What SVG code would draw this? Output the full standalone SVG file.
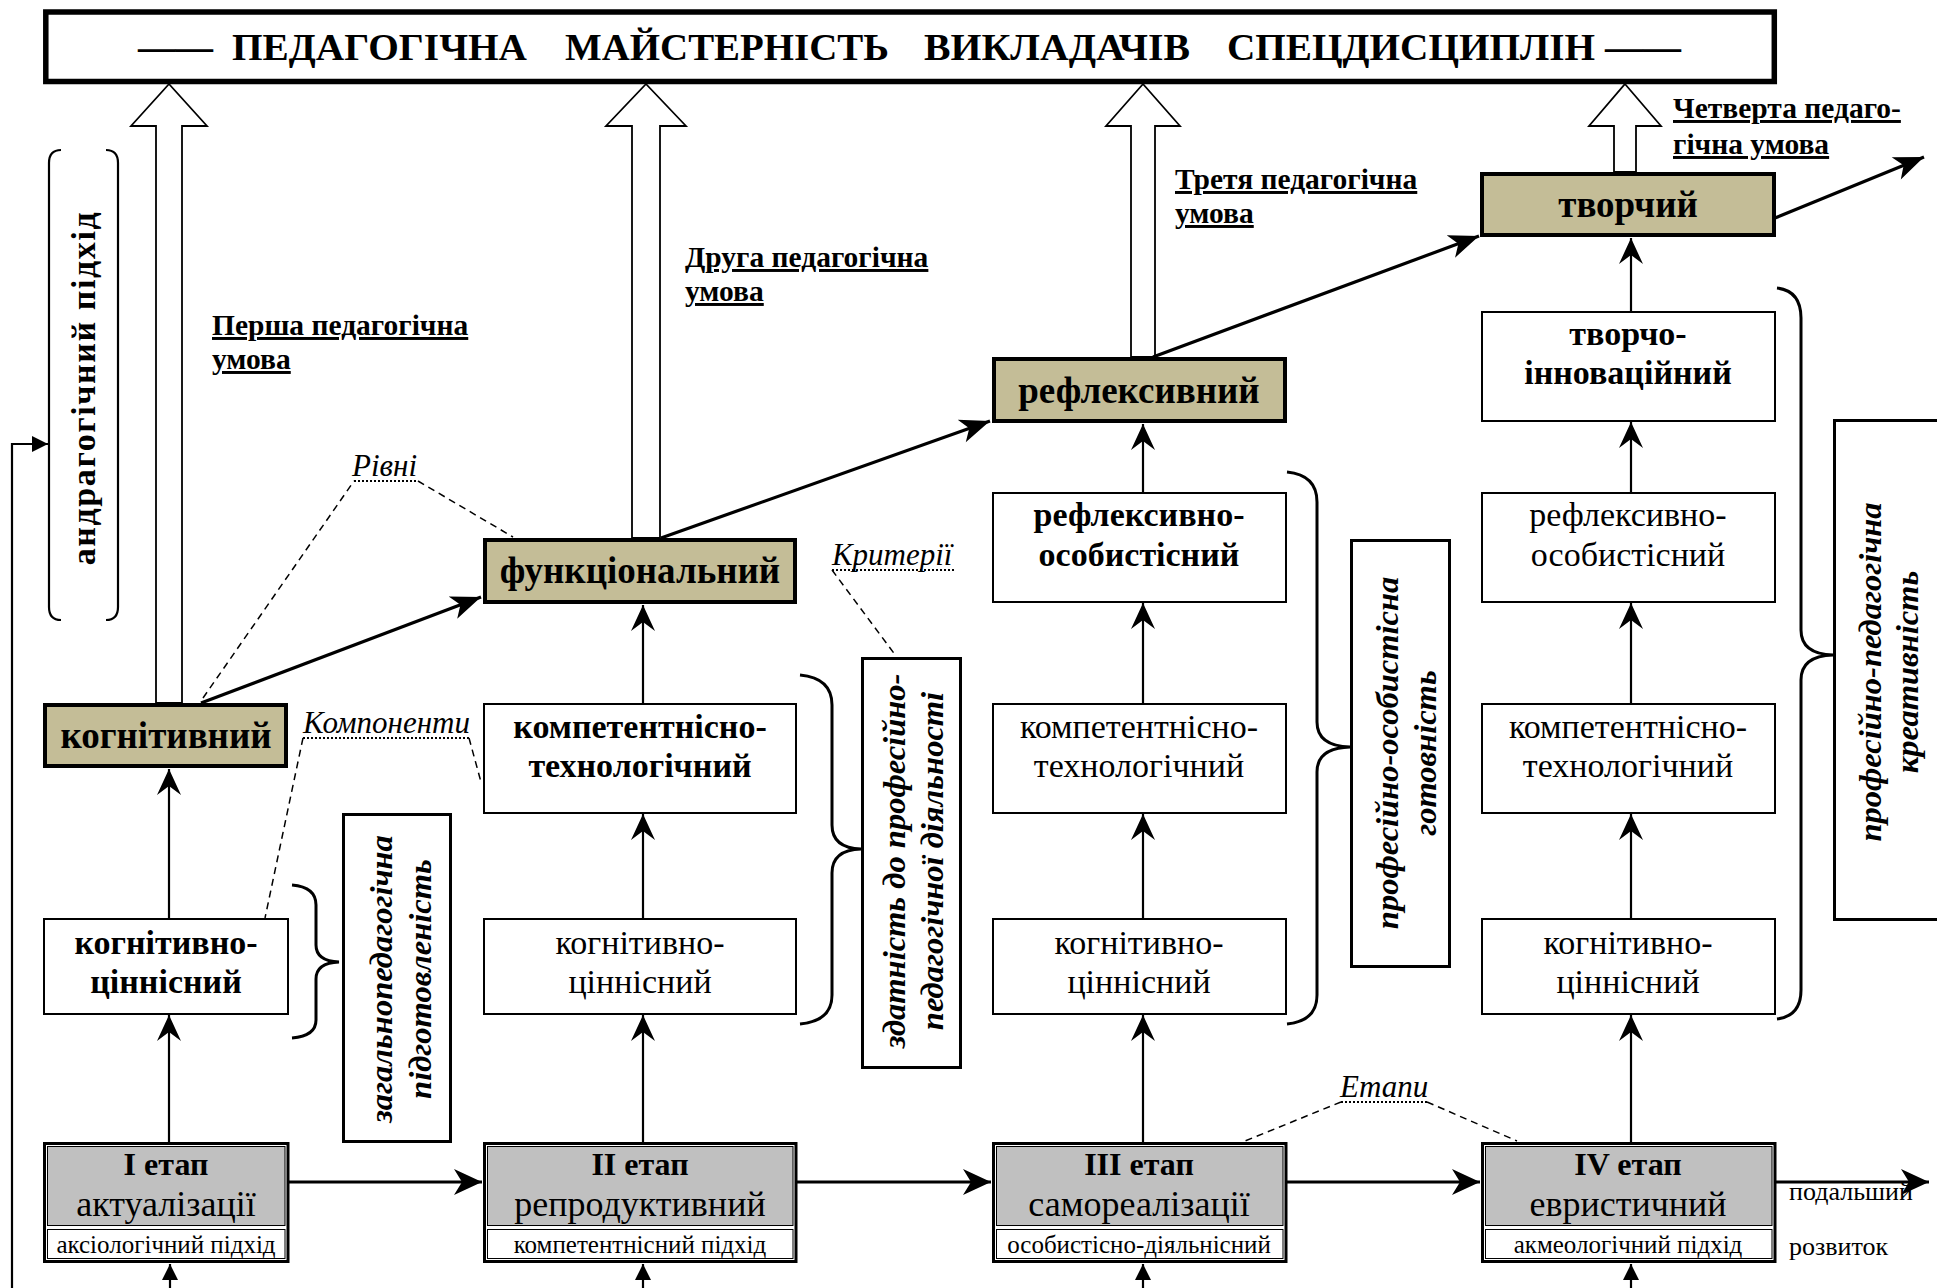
<svg xmlns="http://www.w3.org/2000/svg" width="1937" height="1288" viewBox="0 0 1937 1288">
<style>
text{font-family:"Liberation Serif","Times New Roman",serif;fill:#000}
.b{font-weight:bold}
.lvl{font-size:37px;font-weight:bold;text-anchor:middle}
.cb{font-size:34px;font-weight:bold;text-anchor:middle}
.cn{font-size:34px;text-anchor:middle}
.st1{font-size:32px;font-weight:bold;text-anchor:middle}
.st2{font-size:36px;text-anchor:middle}
.st3{font-size:25px;text-anchor:middle}
.cond{font-size:29.5px;font-weight:bold;text-decoration:underline}
.it{font-size:31px;font-style:italic}
.vt{font-size:32.5px;font-weight:bold;font-style:italic;text-anchor:middle}
.ttl{font-size:38px;font-weight:bold}
.lvlbox{fill:#c4bd97;stroke:#000;stroke-width:4}
.comp{fill:#fff;stroke:#000;stroke-width:2}
.vbox{fill:#fff;stroke:#000;stroke-width:3}
.hollow{fill:#fff;stroke:#000;stroke-width:1.8}
.ln{fill:none;stroke:#000;stroke-width:2.2}
.thick{fill:none;stroke:#000;stroke-width:3.2}
.dash{fill:none;stroke:#000;stroke-width:1.5;stroke-dasharray:7 5}
.dot{fill:none;stroke:#000;stroke-width:1.8;stroke-dasharray:2 2}
.brace{fill:none;stroke:#000;stroke-width:3}
</style>
<defs>
<marker id="ah" markerUnits="userSpaceOnUse" markerWidth="30" markerHeight="30" viewBox="-30 -15 30 30" refX="0" refY="0" orient="auto"><path d="M0,0 L-26,-12 L-17,0 L-26,12 Z" fill="#000"/></marker>
<marker id="ahS" markerUnits="userSpaceOnUse" markerWidth="32" markerHeight="32" viewBox="-32 -16 32 32" refX="0" refY="0" orient="auto"><path d="M0,0 L-28,-13 L-20,0 L-28,13 Z" fill="#000"/></marker>
<marker id="ahD" markerUnits="userSpaceOnUse" markerWidth="34" markerHeight="34" viewBox="-34 -17 34 34" refX="0" refY="0" orient="auto"><path d="M0,0 L-30,-12 L-22,0 L-30,12 Z" fill="#000"/></marker>
<marker id="ahT" markerUnits="userSpaceOnUse" markerWidth="20" markerHeight="20" viewBox="-20 -10 20 20" refX="0" refY="0" orient="auto"><path d="M0,0 L-16,-8 L-16,8 Z" fill="#000"/></marker>
</defs>

<!-- title -->
<g id="title">
<rect x="45.8" y="12" width="1728.5" height="69.5" fill="#fff" stroke="#000" stroke-width="5.5"/>
<text class="ttl" x="138" y="60" textLength="75" lengthAdjust="spacingAndGlyphs">——</text>
<text class="ttl" x="232" y="60" textLength="295" lengthAdjust="spacingAndGlyphs">ПЕДАГОГІЧНА</text>
<text class="ttl" x="565" y="60" textLength="324" lengthAdjust="spacingAndGlyphs">МАЙСТЕРНІСТЬ</text>
<text class="ttl" x="924" y="60" textLength="266" lengthAdjust="spacingAndGlyphs">ВИКЛАДАЧІВ</text>
<text class="ttl" x="1227" y="60" textLength="368" lengthAdjust="spacingAndGlyphs">СПЕЦДИСЦИПЛІН</text>
<text class="ttl" x="1605" y="60" textLength="76" lengthAdjust="spacingAndGlyphs">——</text>
</g>

<!-- hollow arrows to title -->
<g id="hollow-arrows">
<path class="hollow" d="M169,84 L207,126 L182,126 L182,703 L156,703 L156,126 L131,126 Z"/>
<path class="hollow" d="M646,84 L686,126 L660,126 L660,538 L632,538 L632,126 L606,126 Z"/>
<path class="hollow" d="M1143,84 L1180,126 L1155,126 L1155,357 L1131,357 L1131,126 L1106,126 Z"/>
<path class="hollow" d="M1625,84 L1661,126 L1636,126 L1636,172 L1614,172 L1614,126 L1589,126 Z"/>
</g>

<!-- connectors -->
<g id="connectors">
<line class="thick" x1="201" y1="703" x2="481" y2="597" marker-end="url(#ahD)"/>
<line class="thick" x1="661" y1="538" x2="990" y2="421" marker-end="url(#ahD)"/>
<line class="thick" x1="1153" y1="357" x2="1479" y2="236" marker-end="url(#ahD)"/>
<line class="thick" x1="1775" y1="218" x2="1924" y2="157" marker-end="url(#ahD)"/>
<line class="thick" x1="289" y1="1182" x2="482" y2="1182" marker-end="url(#ahS)"/>
<line class="thick" x1="797" y1="1182" x2="991" y2="1182" marker-end="url(#ahS)"/>
<line class="thick" x1="1287" y1="1182" x2="1480" y2="1182" marker-end="url(#ahS)"/>
<line class="thick" x1="1776" y1="1182" x2="1929" y2="1182" marker-end="url(#ahS)"/>
<line class="ln" x1="169" y1="1142" x2="169" y2="1015" marker-end="url(#ah)"/>
<line class="ln" x1="169" y1="918" x2="169" y2="769" marker-end="url(#ah)"/>
<line class="ln" x1="643" y1="1142" x2="643" y2="1015" marker-end="url(#ah)"/>
<line class="ln" x1="643" y1="918" x2="643" y2="814" marker-end="url(#ah)"/>
<line class="ln" x1="643" y1="703" x2="643" y2="605" marker-end="url(#ah)"/>
<line class="ln" x1="1143" y1="1142" x2="1143" y2="1015" marker-end="url(#ah)"/>
<line class="ln" x1="1143" y1="918" x2="1143" y2="814" marker-end="url(#ah)"/>
<line class="ln" x1="1143" y1="703" x2="1143" y2="603" marker-end="url(#ah)"/>
<line class="ln" x1="1143" y1="492" x2="1143" y2="424" marker-end="url(#ah)"/>
<line class="ln" x1="1631" y1="1142" x2="1631" y2="1015" marker-end="url(#ah)"/>
<line class="ln" x1="1631" y1="918" x2="1631" y2="814" marker-end="url(#ah)"/>
<line class="ln" x1="1631" y1="703" x2="1631" y2="603" marker-end="url(#ah)"/>
<line class="ln" x1="1631" y1="492" x2="1631" y2="422" marker-end="url(#ah)"/>
<line class="ln" x1="1631" y1="311" x2="1631" y2="238" marker-end="url(#ah)"/>
<line class="ln" x1="170" y1="1290" x2="170" y2="1264" marker-end="url(#ahT)"/>
<line class="ln" x1="643" y1="1290" x2="643" y2="1264" marker-end="url(#ahT)"/>
<line class="ln" x1="1143" y1="1290" x2="1143" y2="1264" marker-end="url(#ahT)"/>
<line class="ln" x1="1631" y1="1290" x2="1631" y2="1264" marker-end="url(#ahT)"/>
<path class="ln" d="M12,1290 L12,444 L48,444" marker-end="url(#ahT)"/>
<path class="dash" d="M203,698 L354,481"/>
<path class="dash" d="M418,481 L513,537"/>
<path class="dot" d="M354,481 L418,481"/>
<path class="dash" d="M832,570 L896,656"/>
<path class="dot" d="M832,570 L955,570"/>
<path class="dash" d="M469,738 L481,782"/>
<path class="dash" d="M303,738 L265,918"/>
<path class="dot" d="M303,738 L469,738"/>
<path class="dash" d="M1341,1102 L1245,1141"/>
<path class="dash" d="M1427,1102 L1517,1141"/>
<path class="dot" d="M1341,1102 L1427,1102"/>
<path class="brace" d="M292,885 Q316,887 316,905 L316,945 Q316,961 339,962 Q316,963 316,979 L316,1020 Q316,1036 292,1038"/>
<path class="brace" d="M800,675 Q832,678 832,705 L832,825 Q832,848 861,849 Q832,850 832,873 L832,995 Q832,1021 800,1024"/>
<path class="brace" d="M1287,472 Q1317,475 1317,502 L1317,722 Q1317,746 1350,747 Q1317,748 1317,772 L1317,995 Q1317,1021 1287,1024"/>
<path class="brace" d="M1777,288 Q1801,291 1801,318 L1801,630 Q1801,654 1833,655 Q1801,656 1801,680 L1801,990 Q1801,1016 1777,1019"/>
<path class="ln" d="M61,150 Q49,150 49,163 L49,607 Q49,620 61,620"/>
<path class="ln" d="M106,150 Q118,150 118,163 L118,607 Q118,620 106,620"/>
</g>

<!-- level nodes -->
<g id="lvl-kognityvnyi"><rect class="lvlbox" x="45" y="705" width="241" height="61"/><text class="lvl" x="166" y="748">когнітивний</text></g>
<g id="lvl-funktsionalnyi"><rect class="lvlbox" x="485" y="540" width="310" height="62"/><text class="lvl" x="640" y="583">функціональний</text></g>
<g id="lvl-refleksyvnyi"><rect class="lvlbox" x="994" y="359" width="291" height="62"/><text class="lvl" x="1139" y="403">рефлексивний</text></g>
<g id="lvl-tvorchyi"><rect class="lvlbox" x="1482" y="174" width="292" height="61"/><text class="lvl" x="1628" y="217">творчий</text></g>

<!-- component nodes -->
<g id="c1-kc"><rect class="comp" x="44" y="919" width="244" height="95"/><text class="cb" x="166" y="954">когнітивно-</text><text class="cb" x="166" y="993">ціннісний</text></g>
<g id="c2-kt"><rect class="comp" x="484" y="704" width="312" height="109"/><text class="cb" x="640" y="738">компетентнісно-</text><text class="cb" x="640" y="777">технологічний</text></g>
<g id="c2-kc"><rect class="comp" x="484" y="919" width="312" height="95"/><text class="cn" x="640" y="954">когнітивно-</text><text class="cn" x="640" y="993">ціннісний</text></g>
<g id="c3-ro"><rect class="comp" x="993" y="493" width="293" height="109"/><text class="cb" x="1139" y="526">рефлексивно-</text><text class="cb" x="1139" y="566">особистісний</text></g>
<g id="c3-kt"><rect class="comp" x="993" y="704" width="293" height="109"/><text class="cn" x="1139" y="738">компетентнісно-</text><text class="cn" x="1139" y="777">технологічний</text></g>
<g id="c3-kc"><rect class="comp" x="993" y="919" width="293" height="95"/><text class="cn" x="1139" y="954">когнітивно-</text><text class="cn" x="1139" y="993">ціннісний</text></g>
<g id="c4-ti"><rect class="comp" x="1482" y="312" width="293" height="109"/><text class="cb" x="1628" y="345">творчо-</text><text class="cb" x="1628" y="384">інноваційний</text></g>
<g id="c4-ro"><rect class="comp" x="1482" y="493" width="293" height="109"/><text class="cn" x="1628" y="526">рефлексивно-</text><text class="cn" x="1628" y="566">особистісний</text></g>
<g id="c4-kt"><rect class="comp" x="1482" y="704" width="293" height="109"/><text class="cn" x="1628" y="738">компетентнісно-</text><text class="cn" x="1628" y="777">технологічний</text></g>
<g id="c4-kc"><rect class="comp" x="1482" y="919" width="293" height="95"/><text class="cn" x="1628" y="954">когнітивно-</text><text class="cn" x="1628" y="993">ціннісний</text></g>

<!-- stage nodes -->
<g id="stage1">
<rect x="44.5" y="1143.5" width="243.5" height="118" fill="#fff" stroke="#000" stroke-width="3"/>
<rect x="47.5" y="1146.5" width="237.5" height="79" fill="#c0c0c0" stroke="#000" stroke-width="1"/>
<rect x="47.5" y="1229.5" width="237.5" height="29" fill="#fff" stroke="#000" stroke-width="1"/>
<text class="st1" x="166" y="1175">I етап</text><text class="st2" x="166" y="1216">актуалізації</text><text class="st3" x="166" y="1253">аксіологічний підхід</text>
</g>
<g id="stage2">
<rect x="484.5" y="1143.5" width="311.5" height="118" fill="#fff" stroke="#000" stroke-width="3"/>
<rect x="487.5" y="1146.5" width="305.5" height="79" fill="#c0c0c0" stroke="#000" stroke-width="1"/>
<rect x="487.5" y="1229.5" width="305.5" height="29" fill="#fff" stroke="#000" stroke-width="1"/>
<text class="st1" x="640" y="1175">II етап</text><text class="st2" x="640" y="1216">репродуктивний</text><text class="st3" x="640" y="1253">компетентнісний підхід</text>
</g>
<g id="stage3">
<rect x="993.5" y="1143.5" width="292.5" height="118" fill="#fff" stroke="#000" stroke-width="3"/>
<rect x="996.5" y="1146.5" width="286.5" height="79" fill="#c0c0c0" stroke="#000" stroke-width="1"/>
<rect x="996.5" y="1229.5" width="286.5" height="29" fill="#fff" stroke="#000" stroke-width="1"/>
<text class="st1" x="1139" y="1175">III етап</text><text class="st2" x="1139" y="1216">самореалізації</text><text class="st3" x="1139" y="1253">особистісно-діяльнісний</text>
</g>
<g id="stage4">
<rect x="1482.5" y="1143.5" width="292.5" height="118" fill="#fff" stroke="#000" stroke-width="3"/>
<rect x="1485.5" y="1146.5" width="286.5" height="79" fill="#c0c0c0" stroke="#000" stroke-width="1"/>
<rect x="1485.5" y="1229.5" width="286.5" height="29" fill="#fff" stroke="#000" stroke-width="1"/>
<text class="st1" x="1628" y="1175">IV етап</text><text class="st2" x="1628" y="1216">евристичний</text><text class="st3" x="1628" y="1253">акмеологічний підхід</text>
</g>

<!-- vertical label boxes -->
<g id="v-zagalno"><rect class="vbox" x="343.5" y="814.5" width="107" height="327"/>
<text class="vt" transform="translate(392,979) rotate(-90)">загальнопедагогічна</text>
<text class="vt" transform="translate(431,979) rotate(-90)">підготовленість</text></g>
<g id="v-zdatnist"><rect class="vbox" x="862.5" y="658.5" width="98" height="409"/>
<text class="vt" transform="translate(905,861) rotate(-90)">здатність до професійно-</text>
<text class="vt" transform="translate(943,861) rotate(-90)">педагогічної діяльності</text></g>
<g id="v-gotovnist"><rect class="vbox" x="1351.5" y="540.5" width="98" height="426"/>
<text class="vt" transform="translate(1398,753) rotate(-90)">професійно-особистісна</text>
<text class="vt" transform="translate(1436,753) rotate(-90)">готовність</text></g>
<g id="v-kreatyvnist"><path class="vbox" d="M1945,420.5 L1834.5,420.5 L1834.5,919.5 L1945,919.5"/>
<text class="vt" transform="translate(1881,672) rotate(-90)">професійно-педагогічна</text>
<text class="vt" transform="translate(1918,672) rotate(-90)">креативність</text></g>
<g id="v-andrag">
<text class="b" style="font-size:34px;letter-spacing:1.6px" text-anchor="middle" transform="translate(95,388) rotate(-90)">андрагогічний  підхід</text>
</g>

<!-- condition labels -->
<g id="labels">
<text class="cond" x="212" y="335">Перша педагогічна</text>
<text class="cond" x="212" y="369">умова</text>
<text class="cond" x="685" y="267">Друга педагогічна</text>
<text class="cond" x="685" y="301">умова</text>
<text class="cond" x="1175" y="189">Третя педагогічна</text>
<text class="cond" x="1175" y="223">умова</text>
<text class="cond" x="1673" y="118">Четверта педаго-</text>
<text class="cond" x="1673" y="154">гічна умова</text>
<text class="it" x="352" y="476">Рівні</text>
<text class="it" x="832" y="565">Критерії</text>
<text class="it" x="303" y="733">Компоненти</text>
<text class="it" x="1340" y="1097">Етапи</text>
<text style="font-size:26px" x="1789" y="1200">подальший</text>
<text style="font-size:26px" x="1789" y="1255">розвиток</text>
</g>
</svg>
